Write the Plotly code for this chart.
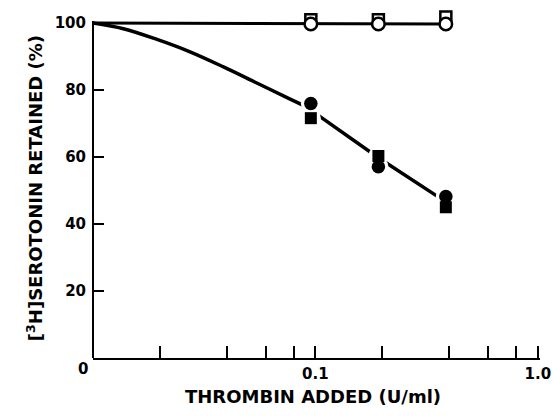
import plotly.graph_objects as go

# ---- data ----
dose = [0.0954, 0.192, 0.386]                 # thrombin added (U/ml)
open_circle = [99.7, 99.7, 99.7]
open_square = [101.0, 101.0, 101.8]
filled_circle = [76.0, 57.1, 48.2]
filled_square = [71.6, 60.3, 45.0]

control_line_x = [0.01, 0.0954, 0.192, 0.386]
control_line_y = [100, 99.7, 99.7, 99.7]

curve_x = [0.01, 0.0137, 0.0194, 0.0273, 0.0386, 0.0545, 0.0770, 0.0954]
curve_y = [100, 98.3, 95.1, 91.4, 86.9, 82.1, 77.3, 74.4]
seg_x = [0.0954, 0.192, 0.386]
seg_y = [74.0, 59.8, 46.6]

xtick_vals = [0.1, 1.0]
xtick_text = ["0.1", "1.0"]
xminor_vals = [0.02, 0.04, 0.06, 0.08, 0.2, 0.4, 0.6, 0.8]
ytick_vals = [20, 40, 60, 80, 100]

tickfont = dict(family="DejaVu Sans", size=15, color="black", weight="bold")
titlefont = dict(family="DejaVu Sans", size=18, color="black", weight="bold")

fig = go.Figure()
# lines
fig.add_trace(go.Scatter(x=control_line_x, y=control_line_y, mode="lines",
                         line=dict(color="black", width=3), cliponaxis=False, hoverinfo="skip"))
fig.add_trace(go.Scatter(x=curve_x, y=curve_y, mode="lines",
                         line=dict(color="black", width=3.5, shape="spline", smoothing=1),
                         cliponaxis=False, hoverinfo="skip"))
fig.add_trace(go.Scatter(x=seg_x, y=seg_y, mode="lines",
                         line=dict(color="black", width=3.5), cliponaxis=False, hoverinfo="skip"))
# white halos around filled markers (gaps in line)
fig.add_trace(go.Scatter(x=dose + dose, y=filled_circle + filled_square, mode="markers",
                         marker=dict(symbol="circle", size=20, color="white"),
                         cliponaxis=False, hoverinfo="skip"))
# filled markers
fig.add_trace(go.Scatter(x=dose, y=filled_circle, mode="markers",
                         marker=dict(symbol="circle", size=13.5, color="black"), cliponaxis=False))
fig.add_trace(go.Scatter(x=dose, y=filled_square, mode="markers",
                         marker=dict(symbol="square", size=12, color="black"), cliponaxis=False))
# open markers
fig.add_trace(go.Scatter(x=dose, y=open_square, mode="markers",
                         marker=dict(symbol="square", size=11, color="white",
                                     line=dict(color="black", width=2.5)), cliponaxis=False))
fig.add_trace(go.Scatter(x=dose, y=open_circle, mode="markers",
                         marker=dict(symbol="circle", size=12.5, color="white",
                                     line=dict(color="black", width=2.5)), cliponaxis=False))

fig.update_layout(
    width=553, height=416,
    margin=dict(l=93, r=13, t=12.6, b=58, autoexpand=False),
    paper_bgcolor="white", plot_bgcolor="white",
    showlegend=False,
    xaxis=dict(type="log", range=[-2, 0.01], showgrid=False, zeroline=False,
               showline=True, linecolor="black", linewidth=2,
               ticks="inside", ticklen=12, tickwidth=2, tickcolor="black",
               tickvals=xtick_vals, ticktext=xtick_text, tickfont=tickfont,
               ticklabelstandoff=1,
               minor=dict(tickvals=xminor_vals, ticks="inside", ticklen=12,
                          tickwidth=2, tickcolor="black", showgrid=False)),
    yaxis=dict(range=[0, 103], showgrid=False, zeroline=False,
               showline=False,
               ticks="inside", ticklen=11, tickwidth=2, tickcolor="black",
               tickvals=ytick_vals, tickfont=tickfont, ticklabelstandoff=6),
    shapes=[dict(type="line", xref="paper", yref="y", x0=0, x1=0, y0=0, y1=100.6,
                 line=dict(color="black", width=2), layer="above")],
    annotations=[
        dict(text="THROMBIN ADDED (U/ml)", xref="paper", yref="paper",
             x=0.4927, y=-39 / 345.4, xanchor="center", yanchor="middle",
             showarrow=False, font=titlefont),
        dict(text="[<sup>3</sup>H]SEROTONIN RETAINED (%)", xref="paper", yref="paper",
             x=-0.1299, y=170 / 345.4, xanchor="center", yanchor="middle", textangle=-90,
             showarrow=False, font=titlefont),
        dict(text="0", xref="paper", yref="paper", x=-0.0213, y=-11.5 / 345.4,
             xanchor="center", yanchor="middle", showarrow=False, font=tickfont),
    ],
)

fig.write_html("out.html")
